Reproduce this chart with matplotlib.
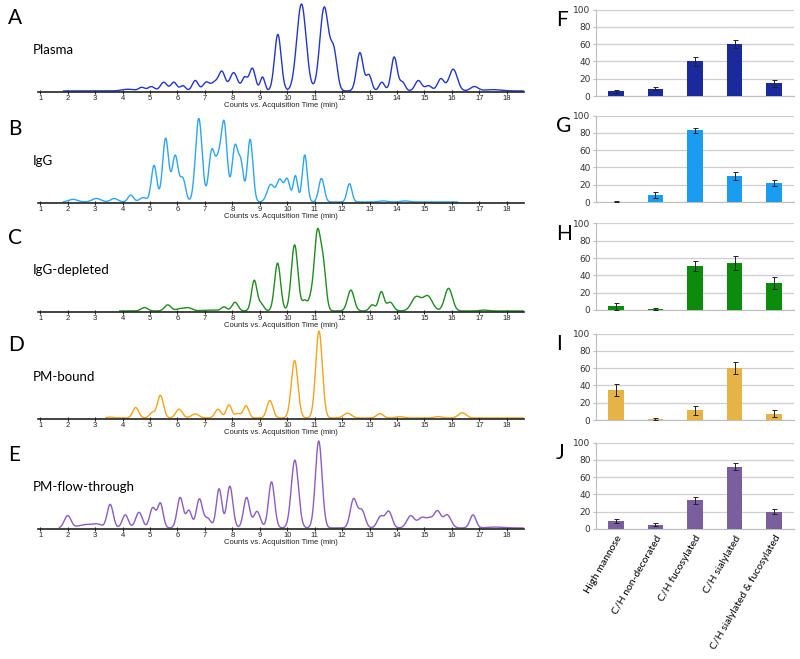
import numpy as np
import matplotlib
matplotlib.use("Agg")
import matplotlib.pyplot as plt

# chromatogram peaks: (retention time, relative height, width)
plasma_peaks = [
    (4.2, 0.02, 0.22), (4.7, 0.04, 0.11), (5.05, 0.05, 0.12), (5.5, 0.1, 0.12),
    (5.87, 0.1, 0.11), (6.2, 0.06, 0.1), (6.65, 0.12, 0.11), (7.05, 0.1, 0.12),
    (7.35, 0.09, 0.12), (7.62, 0.22, 0.12), (8.05, 0.21, 0.14), (8.45, 0.15, 0.1),
    (8.73, 0.26, 0.11), (9.1, 0.16, 0.085), (9.66, 0.65, 0.12), (10.52, 1.0, 0.17),
    (11.35, 0.96, 0.16), (11.7, 0.43, 0.12), (12.65, 0.44, 0.12), (12.98, 0.18, 0.1),
    (13.45, 0.1, 0.1), (13.9, 0.39, 0.11), (14.2, 0.1, 0.1), (14.78, 0.12, 0.12),
    (15.15, 0.06, 0.12), (15.6, 0.14, 0.12), (16.05, 0.25, 0.15), (16.82, 0.05, 0.14),
    (17.5, 0.015, 0.3),
]
igg_peaks = [
    (2.2, 0.03, 0.16), (3.05, 0.04, 0.16), (3.7, 0.04, 0.13), (4.3, 0.08, 0.1),
    (4.75, 0.05, 0.13), (5.15, 0.42, 0.1), (5.57, 0.73, 0.11), (5.92, 0.53, 0.11),
    (6.2, 0.26, 0.1), (6.78, 0.96, 0.12), (7.25, 0.58, 0.11), (7.48, 0.38, 0.1),
    (7.7, 0.9, 0.11), (8.1, 0.64, 0.11), (8.32, 0.4, 0.09), (8.65, 0.72, 0.1),
    (9.4, 0.2, 0.13), (9.73, 0.25, 0.11), (10.0, 0.26, 0.1), (10.3, 0.3, 0.08),
    (10.64, 0.54, 0.09), (11.25, 0.27, 0.1), (12.27, 0.21, 0.09),
    (13.5, 0.012, 0.15), (14.3, 0.012, 0.15),
]
depleted_peaks = [
    (4.8, 0.04, 0.12), (5.65, 0.07, 0.12), (6.1, 0.025, 0.14), (6.4, 0.035, 0.14),
    (7.2, 0.01, 0.3), (7.7, 0.045, 0.1), (8.1, 0.1, 0.11), (8.8, 0.35, 0.1),
    (9.05, 0.08, 0.1), (9.65, 0.55, 0.11), (10.27, 0.76, 0.12), (10.65, 0.12, 0.1),
    (10.85, 0.09, 0.07), (11.1, 0.9, 0.12), (11.32, 0.45, 0.1), (12.32, 0.24, 0.12),
    (13.1, 0.07, 0.1), (13.43, 0.22, 0.1), (13.75, 0.1, 0.12), (14.7, 0.16, 0.17),
    (15.12, 0.17, 0.17), (15.88, 0.26, 0.14), (17.15, 0.01, 0.15),
]
bound_peaks = [
    (3.55, 0.01, 0.12), (4.48, 0.12, 0.11), (5.08, 0.06, 0.1), (5.38, 0.26, 0.11),
    (6.06, 0.1, 0.12), (6.65, 0.045, 0.14), (7.48, 0.1, 0.11), (7.88, 0.15, 0.1),
    (8.2, 0.05, 0.1), (8.5, 0.14, 0.1), (9.37, 0.2, 0.11), (10.27, 0.66, 0.12),
    (11.16, 1.0, 0.12), (12.2, 0.055, 0.14), (13.38, 0.05, 0.12), (14.1, 0.015, 0.14),
    (15.5, 0.015, 0.14), (16.38, 0.06, 0.14),
]
flow_peaks = [
    (2.0, 0.14, 0.12), (2.7, 0.04, 0.3), (3.1, 0.03, 0.15), (3.55, 0.27, 0.11),
    (4.1, 0.15, 0.11), (4.6, 0.18, 0.12), (5.1, 0.23, 0.11), (5.38, 0.28, 0.1),
    (6.1, 0.35, 0.11), (6.42, 0.2, 0.1), (6.8, 0.33, 0.11), (7.1, 0.11, 0.12),
    (7.52, 0.45, 0.1), (7.91, 0.48, 0.11), (8.52, 0.35, 0.11), (8.9, 0.19, 0.12),
    (9.43, 0.53, 0.11), (10.28, 0.78, 0.13), (11.15, 1.0, 0.12), (12.42, 0.33, 0.12),
    (12.72, 0.2, 0.12), (13.4, 0.13, 0.12), (13.7, 0.19, 0.12), (14.5, 0.14, 0.14),
    (14.9, 0.11, 0.14), (15.2, 0.1, 0.14), (15.48, 0.18, 0.12), (15.83, 0.15, 0.14),
    (16.77, 0.15, 0.11), (17.6, 0.01, 0.3),
]

samples = ["Plasma", "IgG", "IgG-depleted", "PM-bound", "PM-flow-through"]
trace_start = [1.85, 1.85, 3.9, 3.4, 1.7]
trace_end = [18.6, 16.2, 18.6, 18.6, 18.6]
chrom_letters = ["A", "B", "C", "D", "E"]
bar_letters = ["F", "G", "H", "I", "J"]

categories = ["High mannose", "C/H non-decorated", "C/H fucosylated",
              "C/H sialylated", "C/H sialylated & fucosylated"]
bar_means = [
    [5.5, 8.5, 40, 60, 14.5],
    [0.5, 8, 83, 30, 22],
    [4.5, 1, 51, 54, 31],
    [35, 1, 11, 60, 7],
    [9.5, 5, 33, 72, 20],
]
bar_errs = [
    [2, 1.5, 5, 5, 4.5],
    [0.3, 3, 3, 5, 4],
    [4, 0.8, 6, 8, 7],
    [7, 0.8, 5, 7, 4],
    [2, 2, 4, 4, 3],
]

trace_colors = ["#2336c8", "#2ea4f2", "#1e8c1e", "#f2a41c", "#8a5cc4"]
bar_colors = ["#1a2a9c", "#1a9cf0", "#0c8c0c", "#e6b446", "#7a5e9e"]

W, H = 800, 659
fig = plt.figure(figsize=(8, 6.59), dpi=100)
fig.patch.set_facecolor("white")

axis_y = [92, 203, 312, 419, 529]     # pixel rows of the chromatogram axes
bar_zero = [96, 202, 310, 420, 529]   # pixel rows of the bar chart zero lines

for i, peaks in enumerate([plasma_peaks, igg_peaks, depleted_peaks, bound_peaks, flow_peaks]):
    ax = fig.add_axes([38 / W, 1 - axis_y[i] / H, 486 / W, 87 / H])
    t = np.linspace(trace_start[i], trace_end[i], 3000)
    y = np.full_like(t, 0.012)
    for rt, h, w in peaks:
        y += h * np.exp(-(t - rt) ** 2 / (2 * w ** 2))
    ax.plot(t, y, color=trace_colors[i], lw=1.0, clip_on=False)
    ax.set_xlim(0.92, 18.63)
    ax.set_ylim(0, 1.0)
    for s in ["top", "right", "left"]:
        ax.spines[s].set_visible(False)
    ax.spines["bottom"].set_color("#222222")
    ax.spines["bottom"].set_linewidth(1.2)
    ax.set_yticks([])
    ax.set_xticks(range(1, 19))
    ax.tick_params(axis="x", direction="inout", length=3, width=0.8,
                   labelsize=5.5, pad=1, colors="#222222")
    ax.set_xlabel("Counts vs. Acquisition Time (min)", fontsize=5.5,
                  labelpad=0, family="Liberation Sans", color="#222222")
    for lab in ax.get_xticklabels():
        lab.set_family("Liberation Sans")
    fig.text(8 / W, 1 - (axis_y[i] - 74) / H, chrom_letters[i], fontsize=15,
             family="Lato", va="center", ha="left")
    fig.text(33 / W, 1 - (axis_y[i] - 42) / H, samples[i], fontsize=9.5,
             family="Lato", va="center", ha="left")

    # bar chart
    bx = fig.add_axes([596 / W, 1 - bar_zero[i] / H, 198 / W, 86.5 / H])
    pos = np.arange(len(categories))
    bx.bar(pos, bar_means[i], width=0.39, color=bar_colors[i], zorder=3)
    bx.errorbar(pos, bar_means[i], yerr=bar_errs[i], fmt="none", ecolor="#222222",
                elinewidth=0.7, capsize=1.8, capthick=0.7, zorder=4)
    bx.set_xlim(-0.5, len(categories) - 0.5)
    bx.set_ylim(0, 100)
    bx.set_yticks(range(0, 101, 20))
    bx.yaxis.grid(True, color="#cfcfcf", lw=0.9, zorder=0)
    for s in ["top", "right"]:
        bx.spines[s].set_visible(False)
    bx.spines["left"].set_color("#bdbdbd")
    bx.spines["bottom"].set_color("#bdbdbd")
    bx.tick_params(axis="y", length=2.5, labelsize=6.5, pad=1.5, colors="#bdbdbd",
                   labelcolor="#333333")
    bx.tick_params(axis="x", length=0)
    if i < 4:
        bx.set_xticks([])
    else:
        bx.set_xticks(pos)
        bx.set_xticklabels(categories, rotation=60, ha="right",
                           rotation_mode="anchor", fontsize=7.5, family="Lato")
    fig.text(556 / W, 1 - (bar_zero[i] - 76) / H, bar_letters[i], fontsize=15,
             family="Lato", va="center", ha="left")

fig.savefig("out.png", dpi=100, facecolor="white")
